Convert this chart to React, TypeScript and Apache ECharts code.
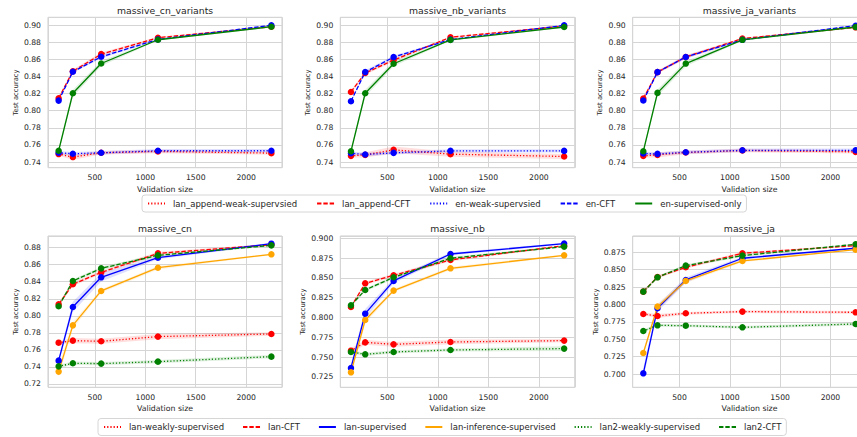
import React, { useEffect, useRef } from "react";
import * as echarts from "echarts";

// ---------- data ----------
const validationSizes = [140, 281, 562, 1125, 2250];

const topNames = ["lan_append-weak-supervsied", "lan_append-CFT", "en-weak-supervsied", "en-CFT", "en-supervised-only"];
const bottomNames = ["lan-weakly-supervised", "lan-CFT", "lan-supervised", "lan-inference-supervised", "lan2-weakly-supervised", "lan2-CFT"];
const panelTitles = ["massive_cn_variants", "massive_nb_variants", "massive_ja_variants", "massive_cn", "massive_nb", "massive_ja"];
const xTickStep = 500;
const yTickSteps = [0.02, 0.02, 0.02, 0.02, 0.025, 0.025];
const yDecimals = [2, 2, 2, 2, 3, 3];
const yMins = [0.7335, 0.7335, 0.7335, 0.7161, 0.712, 0.6809];
const yMaxs = [0.909, 0.909, 0.909, 0.8937, 0.9029, 0.8984];

// massive_cn_variants
const cnvLanAppendWeak = [0.7494, 0.7459, 0.7509, 0.7525, 0.7505];
const cnvLanAppendCft = [0.8145, 0.8461, 0.866, 0.8852, 0.898];
const cnvEnWeak = [0.7509, 0.7498, 0.7509, 0.7533, 0.7533];
const cnvEnCft = [0.8118, 0.8454, 0.8629, 0.8832, 0.8996];
const cnvEnSup = [0.7533, 0.8204, 0.8551, 0.8828, 0.898];
const cnvLanAppendWeakCi = [0.002, 0.003, 0.002, 0.002, 0.002];
const cnvLanAppendCftCi = [0.002, 0.002, 0.002, 0.001, 0.001];
const cnvEnWeakCi = [0.002, 0.002, 0.002, 0.002, 0.002];
const cnvEnCftCi = [0.001, 0.001, 0.002, 0.001, 0.001];
const cnvEnSupCi = [0.002, 0.004, 0.003, 0.001, 0.001];

// massive_nb_variants
const nbvLanAppendWeak = [0.7473, 0.7485, 0.7543, 0.7493, 0.7466];
const nbvLanAppendCft = [0.8219, 0.844, 0.859, 0.8857, 0.8988];
const nbvEnWeak = [0.7504, 0.7489, 0.7508, 0.7531, 0.7531];
const nbvEnCft = [0.8111, 0.8451, 0.8625, 0.883, 0.8996];
const nbvEnSup = [0.7527, 0.8204, 0.8548, 0.8826, 0.8977];
const nbvLanAppendWeakCi = [0.002, 0.003, 0.004, 0.003, 0.003];
const nbvLanAppendCftCi = [0.002, 0.002, 0.002, 0.001, 0.001];
const nbvEnWeakCi = [0.002, 0.002, 0.002, 0.002, 0.002];
const nbvEnCftCi = [0.001, 0.002, 0.002, 0.001, 0.001];
const nbvEnSupCi = [0.002, 0.004, 0.003, 0.001, 0.001];

// massive_ja_variants
const javLanAppendWeak = [0.7473, 0.7485, 0.7512, 0.7535, 0.752];
const javLanAppendCft = [0.8142, 0.845, 0.8627, 0.8842, 0.8973];
const javEnWeak = [0.75, 0.7496, 0.7515, 0.7538, 0.7538];
const javEnCft = [0.8119, 0.845, 0.8627, 0.8827, 0.8992];
const javEnSup = [0.7527, 0.8208, 0.855, 0.8827, 0.8977];
const javLanAppendWeakCi = [0.002, 0.003, 0.002, 0.002, 0.002];
const javLanAppendCftCi = [0.002, 0.002, 0.002, 0.001, 0.001];
const javEnWeakCi = [0.002, 0.002, 0.002, 0.002, 0.002];
const javEnCftCi = [0.001, 0.001, 0.002, 0.001, 0.001];
const javEnSupCi = [0.002, 0.004, 0.003, 0.001, 0.001];

// massive_cn
const cnLanWeak = [0.7685, 0.7709, 0.7701, 0.7756, 0.7787];
const cnLanCft = [0.8135, 0.837, 0.851, 0.8733, 0.8835];
const cnLanSup = [0.7474, 0.8104, 0.8452, 0.8683, 0.8847];
const cnLanInf = [0.7345, 0.7888, 0.8292, 0.8565, 0.8722];
const cnLan2Weak = [0.7407, 0.7443, 0.7439, 0.7462, 0.7521];
const cnLan2Cft = [0.8112, 0.8409, 0.8557, 0.871, 0.8827];
const cnLanWeakCi = [0.002, 0.003, 0.003, 0.003, 0.002];
const cnLanCftCi = [0.002, 0.002, 0.002, 0.002, 0.001];
const cnLanSupCi = [0.003, 0.006, 0.005, 0.002, 0.001];
const cnLanInfCi = [0.006, 0.004, 0.002, 0.002, 0.001];
const cnLan2WeakCi = [0.002, 0.002, 0.002, 0.002, 0.002];
const cnLan2CftCi = [0.002, 0.002, 0.002, 0.002, 0.001];

// massive_nb
const nbLanWeak = [0.7582, 0.7687, 0.7662, 0.7692, 0.7709];
const nbLanCft = [0.8133, 0.8432, 0.8533, 0.8727, 0.8907];
const nbLanSup = [0.7364, 0.8049, 0.8462, 0.8802, 0.8933];
const nbLanInf = [0.7309, 0.7969, 0.834, 0.8621, 0.8785];
const nbLan2Weak = [0.7566, 0.7536, 0.7566, 0.7591, 0.7608];
const nbLan2Cft = [0.8154, 0.8348, 0.8508, 0.8748, 0.8895];
const nbLanWeakCi = [0.003, 0.003, 0.003, 0.003, 0.002];
const nbLanCftCi = [0.002, 0.002, 0.002, 0.002, 0.001];
const nbLanSupCi = [0.005, 0.006, 0.003, 0.002, 0.001];
const nbLanInfCi = [0.006, 0.004, 0.002, 0.002, 0.001];
const nbLan2WeakCi = [0.002, 0.002, 0.002, 0.002, 0.003];
const nbLan2CftCi = [0.002, 0.002, 0.002, 0.002, 0.001];

// massive_ja
const jaLanWeak = [0.7863, 0.7834, 0.7873, 0.7897, 0.7887];
const jaLanCft = [0.8184, 0.8395, 0.8534, 0.8736, 0.8846];
const jaLanSup = [0.701, 0.7945, 0.8352, 0.8664, 0.8808];
const jaLanInf = [0.7302, 0.7969, 0.8338, 0.8625, 0.8788];
const jaLan2Weak = [0.7619, 0.77, 0.7695, 0.7671, 0.7719];
const jaLan2Cft = [0.8184, 0.839, 0.8558, 0.8702, 0.8865];
const jaLanWeakCi = [0.002, 0.003, 0.002, 0.002, 0.002];
const jaLanCftCi = [0.002, 0.002, 0.002, 0.002, 0.001];
const jaLanSupCi = [0.008, 0.005, 0.004, 0.002, 0.001];
const jaLanInfCi = [0.004, 0.004, 0.003, 0.002, 0.001];
const jaLan2WeakCi = [0.002, 0.002, 0.002, 0.002, 0.002];
const jaLan2CftCi = [0.002, 0.002, 0.002, 0.002, 0.001];

// ---------- styles ----------
const FONT = "DejaVu Sans";
const TXT = "#262626";
const GRIDC = "#d5d5d5";
const RED = "#ff0000";
const BLUE = "#0000ff";
const GREEN = "#008000";
const ORANGE = "#ffa500";
const DOT = [1.2, 2];
const DASH = [4.4, 1.9];

const gridBoxes = [
  { left: 48, top: 17.3, width: 234, height: 150.4 },
  { left: 340.3, top: 17.3, width: 234.5, height: 150.4 },
  { left: 632.7, top: 17.3, width: 233.5, height: 150.4 },
  { left: 48, top: 236, width: 234, height: 151.3 },
  { left: 340.3, top: 236, width: 234.5, height: 151.3 },
  { left: 632.7, top: 236, width: 233.5, height: 151.3 },
];
const yNameGaps = [29, 29, 29, 29, 33.5, 33.5];

type Def = { name: string; values: number[]; ci: number[]; color: string; dash: any };

const panels: Def[][] = [
  [
    { name: topNames[0], values: cnvLanAppendWeak, ci: cnvLanAppendWeakCi, color: RED, dash: DOT },
    { name: topNames[1], values: cnvLanAppendCft, ci: cnvLanAppendCftCi, color: RED, dash: DASH },
    { name: topNames[2], values: cnvEnWeak, ci: cnvEnWeakCi, color: BLUE, dash: DOT },
    { name: topNames[3], values: cnvEnCft, ci: cnvEnCftCi, color: BLUE, dash: DASH },
    { name: topNames[4], values: cnvEnSup, ci: cnvEnSupCi, color: GREEN, dash: "solid" },
  ],
  [
    { name: topNames[0], values: nbvLanAppendWeak, ci: nbvLanAppendWeakCi, color: RED, dash: DOT },
    { name: topNames[1], values: nbvLanAppendCft, ci: nbvLanAppendCftCi, color: RED, dash: DASH },
    { name: topNames[2], values: nbvEnWeak, ci: nbvEnWeakCi, color: BLUE, dash: DOT },
    { name: topNames[3], values: nbvEnCft, ci: nbvEnCftCi, color: BLUE, dash: DASH },
    { name: topNames[4], values: nbvEnSup, ci: nbvEnSupCi, color: GREEN, dash: "solid" },
  ],
  [
    { name: topNames[0], values: javLanAppendWeak, ci: javLanAppendWeakCi, color: RED, dash: DOT },
    { name: topNames[1], values: javLanAppendCft, ci: javLanAppendCftCi, color: RED, dash: DASH },
    { name: topNames[2], values: javEnWeak, ci: javEnWeakCi, color: BLUE, dash: DOT },
    { name: topNames[3], values: javEnCft, ci: javEnCftCi, color: BLUE, dash: DASH },
    { name: topNames[4], values: javEnSup, ci: javEnSupCi, color: GREEN, dash: "solid" },
  ],
  [
    { name: bottomNames[0], values: cnLanWeak, ci: cnLanWeakCi, color: RED, dash: DOT },
    { name: bottomNames[1], values: cnLanCft, ci: cnLanCftCi, color: RED, dash: DASH },
    { name: bottomNames[2], values: cnLanSup, ci: cnLanSupCi, color: BLUE, dash: "solid" },
    { name: bottomNames[3], values: cnLanInf, ci: cnLanInfCi, color: ORANGE, dash: "solid" },
    { name: bottomNames[4], values: cnLan2Weak, ci: cnLan2WeakCi, color: GREEN, dash: DOT },
    { name: bottomNames[5], values: cnLan2Cft, ci: cnLan2CftCi, color: GREEN, dash: DASH },
  ],
  [
    { name: bottomNames[0], values: nbLanWeak, ci: nbLanWeakCi, color: RED, dash: DOT },
    { name: bottomNames[1], values: nbLanCft, ci: nbLanCftCi, color: RED, dash: DASH },
    { name: bottomNames[2], values: nbLanSup, ci: nbLanSupCi, color: BLUE, dash: "solid" },
    { name: bottomNames[3], values: nbLanInf, ci: nbLanInfCi, color: ORANGE, dash: "solid" },
    { name: bottomNames[4], values: nbLan2Weak, ci: nbLan2WeakCi, color: GREEN, dash: DOT },
    { name: bottomNames[5], values: nbLan2Cft, ci: nbLan2CftCi, color: GREEN, dash: DASH },
  ],
  [
    { name: bottomNames[0], values: jaLanWeak, ci: jaLanWeakCi, color: RED, dash: DOT },
    { name: bottomNames[1], values: jaLanCft, ci: jaLanCftCi, color: RED, dash: DASH },
    { name: bottomNames[2], values: jaLanSup, ci: jaLanSupCi, color: BLUE, dash: "solid" },
    { name: bottomNames[3], values: jaLanInf, ci: jaLanInfCi, color: ORANGE, dash: "solid" },
    { name: bottomNames[4], values: jaLan2Weak, ci: jaLan2WeakCi, color: GREEN, dash: DOT },
    { name: bottomNames[5], values: jaLan2Cft, ci: jaLan2CftCi, color: GREEN, dash: DASH },
  ],
];

function bandRenderer(color: string) {
  return (params: any, api: any) => {
    if (params.dataIndexInside !== 0) return null;
    const n = params.dataInsideLength;
    const upper: number[][] = [];
    const lower: number[][] = [];
    for (let j = 0; j < n; j++) {
      const x = api.value(0, j);
      lower.push(api.coord([x, api.value(1, j)]));
      upper.push(api.coord([x, api.value(2, j)]));
    }
    return {
      type: "polygon",
      shape: { points: lower.concat(upper.reverse()) },
      style: { fill: color, opacity: 0.13 },
      silent: true,
    };
  };
}

function buildSeries(): any[] {
  const out: any[] = [];
  panels.forEach((defs, p) => {
    defs.forEach((d, k) => {
      out.push({
        type: "custom",
        name: `band-${p}-${k}`,
        coordinateSystem: "cartesian2d",
        xAxisIndex: p,
        yAxisIndex: p,
        data: validationSizes.map((x, i) => [x, d.values[i] - d.ci[i], d.values[i] + d.ci[i]]),
        encode: { x: 0, y: [1, 2] },
        renderItem: bandRenderer(d.color),
        silent: true,
        z: 1,
      });
    });
    defs.forEach((d) => {
      out.push({
        type: "line",
        name: d.name,
        xAxisIndex: p,
        yAxisIndex: p,
        data: validationSizes.map((x, i) => [x, d.values[i]]),
        symbol: "circle",
        symbolSize: 6.5,
        showSymbol: true,
        itemStyle: { color: d.color },
        lineStyle: { color: d.color, width: 1.3, type: d.dash },
        z: 2,
      });
    });
  });
  return out;
}

function legendOpt(names: string[], left: number, top: number, gap: number) {
  return {
    data: names,
    left,
    top,
    orient: "horizontal",
    itemWidth: 17,
    itemHeight: 6,
    itemGap: gap,
    padding: [4, 5, 4, 5],
    borderColor: "#cccccc",
    borderWidth: 0.8,
    borderRadius: 3,
    backgroundColor: "#ffffff",
    selectedMode: false,
    itemStyle: { opacity: 0 },
    textStyle: { fontSize: 8.5, color: TXT, fontFamily: FONT, padding: [0, 0, 0, 3] },
  };
}

export default function App() {
  const ref = useRef<HTMLDivElement>(null);
  useEffect(() => {
    if (!ref.current) return;
    const chart = echarts.init(ref.current, null, { renderer: "svg" });
    const grids = gridBoxes.map((g) => ({
      ...g,
      show: true,
      borderColor: "#cccccc",
      borderWidth: 1,
      backgroundColor: "#ffffff",
      containLabel: false,
      outerBoundsMode: "none",
    }));
    const xAxes = gridBoxes.map((_, p) => ({
      type: "value",
      gridIndex: p,
      min: 34.5,
      max: 2355.5,
      minInterval: xTickStep,
      maxInterval: xTickStep,
      name: "Validation size",
      nameLocation: "middle",
      nameGap: 17.5,
      nameTextStyle: { fontSize: 7.8, color: TXT, fontFamily: FONT },
      axisLine: { show: false },
      axisTick: { show: false },
      splitLine: { show: true, lineStyle: { color: GRIDC, width: 1 } },
      axisLabel: {
        fontSize: 7.7,
        color: TXT,
        fontFamily: FONT,
        margin: 6,
        showMinLabel: false,
        showMaxLabel: false,
        formatter: (v: number) => String(Math.round(v)),
      },
    }));
    const yAxes = gridBoxes.map((_, p) => ({
      type: "value",
      gridIndex: p,
      min: yMins[p],
      max: yMaxs[p],
      minInterval: yTickSteps[p],
      maxInterval: yTickSteps[p],
      name: "Test accuracy",
      nameLocation: "middle",
      nameGap: yNameGaps[p],
      nameTextStyle: { fontSize: 6.8, color: TXT, fontFamily: FONT },
      axisLine: { show: false },
      axisTick: { show: false },
      splitLine: { show: true, lineStyle: { color: GRIDC, width: 1 } },
      axisLabel: {
        fontSize: 7.7,
        color: TXT,
        fontFamily: FONT,
        margin: 7,
        showMinLabel: false,
        showMaxLabel: false,
        formatter: (v: number) => v.toFixed(yDecimals[p]),
      },
    }));
    const titles = gridBoxes.map((g, p) => ({
      type: "text",
      x: g.left + g.width / 2,
      y: p < 3 ? 10 : 228,
      style: {
        text: panelTitles[p],
        align: "center",
        verticalAlign: "middle",
        fontSize: 9.3,
        fontFamily: FONT,
        fill: TXT,
      },
    }));
    chart.setOption({
      animation: false,
      backgroundColor: "#ffffff",
      textStyle: { fontFamily: FONT },
      grid: grids,
      xAxis: xAxes,
      yAxis: yAxes,
      legend: [legendOpt(topNames, 142, 195, 19), legendOpt(bottomNames, 98, 418.5, 18)],
      graphic: titles,
      series: buildSeries(),
    });
    return () => chart.dispose();
  }, []);
  return (
    <div
      ref={ref}
      style={{ position: "fixed", left: 0, top: 0, width: 857, height: 437, background: "#fff" }}
    />
  );
}
